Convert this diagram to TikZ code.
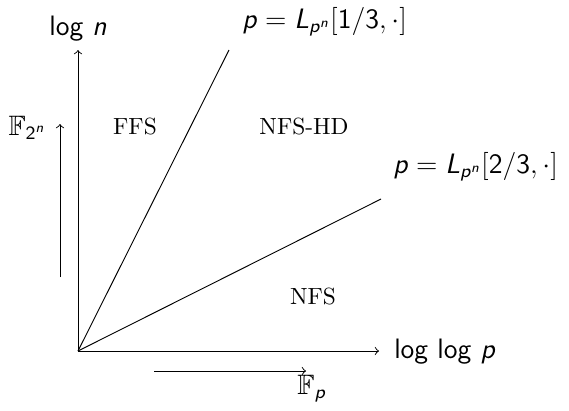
\documentclass[tikz,border=0pt]{standalone}
\usepackage{amsmath,amssymb}
\newcommand{\svar}[1]{\textsf{\textit{#1}}}
\begin{document}
\begin{tikzpicture}[x=0.4274pt,y=-0.4274pt,
  axis/.style={->,line width=0.4pt},
  ray/.style={line width=0.4pt},
  region/.style={font=\rmfamily},
  lbl/.style={font=\sffamily\large}]
\useasboundingbox (0,0) rectangle (569,410);
\coordinate (O) at (78,351);
\coordinate (ytop) at (78,50);
\coordinate (xend) at (379,351);
\coordinate (r1) at (229,50);
\coordinate (r2) at (381,199);
\coordinate (fa) at (60,277);
\coordinate (fb) at (60,124);
\coordinate (pa) at (154,371);
\coordinate (pb) at (306,371);
\draw[axis] (O) -- (ytop);
\draw[axis] (O) -- (xend);
\draw[ray] (O) -- (r1);
\draw[ray] (O) -- (r2);
\draw[axis] (fa) -- (fb);
\draw[axis] (pa) -- (pb);
\node[lbl] (ylab) at (78,29) {log \svar{n}};
\node[lbl,anchor=west] (xlab) at (386,352) {log log \svar{p}};
\node[lbl,anchor=west] (l1) at (234,22) {$\svar{p} = \svar{L}_{\svar{p}^{\svar{n}}}[\textsf{1/3}, \cdot]$};
\node[lbl,anchor=west] (l2) at (385,167) {$\svar{p} = \svar{L}_{\svar{p}^{\svar{n}}}[\textsf{2/3}, \cdot]$};
\node[lbl,anchor=east] (f2n) at (54,128) {$\mathbb{F}_{\textsf{2}^{\svar{n}}}$};
\node[lbl] (fp) at (312,389) {$\mathbb{F}_{\svar{p}}$};
\node[region] (ffs) at (135,127) {FFS};
\node[region] (nfshd) at (304,127) {NFS-HD};
\node[region] (nfs) at (313,297) {NFS};
\end{tikzpicture}
\end{document}
